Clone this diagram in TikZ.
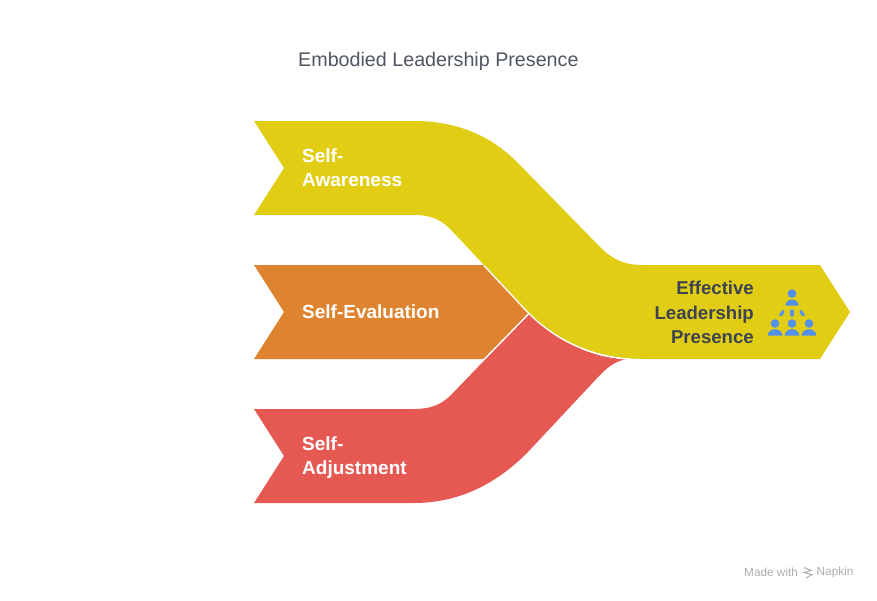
\documentclass[tikz,border=0pt]{standalone}
\usepackage{fontspec}
\setmainfont{Liberation Sans}
\usepackage{tikz}
\usetikzlibrary{positioning,calc}
\definecolor{ribyellow}{HTML}{E0CD14}
\definecolor{riborange}{HTML}{DE8431}
\definecolor{ribred}{HTML}{E65953}
\definecolor{inkdark}{HTML}{3D4350}
\definecolor{iconblue}{HTML}{5390EC}
\begin{document}
\begin{tikzpicture}[x=1pt,y=-1pt,
 lab/.style={font=\fontsize{19}{24.3}\selectfont\bfseries,text=white,anchor=west,align=left,inner sep=0pt},
 gap/.style={draw=white,line width=1.3pt},
 mark text/.style={font=\fontsize{11.8}{13}\selectfont,text=black!32,anchor=west,inner sep=0pt},
 tick/.style={draw=iconblue,line width=3.2pt,line cap=round}]
\useasboundingbox (0,0) rectangle (877,600);
% ribbons
\fill[riborange] (254,265) -- (484,265) -- (530,312) -- (484,359) -- (254,359) -- (284,312) -- cycle;
\fill[ribred] (254,409) -- (414,409) .. controls (430,409) and (441,405) .. (451,395) -- (530,313)
 .. controls (556,340) and (590,358) .. (626,359) .. controls (614,362) and (608,367) .. (600,375) -- (527,453)
 .. controls (497,483) and (460,503) .. (414,503) -- (254,503) -- (284,456) -- cycle;
\draw[gap] (484,359.5) -- (530,312.5);
\fill[ribyellow] (254,121) -- (414,121) .. controls (456,121) and (490,135) .. (517,162) -- (600,247)
 .. controls (612,259) and (624,265) .. (642,265) -- (820,265) -- (850,312) -- (820,359) -- (642,359)
 .. controls (594,359) and (556,340) .. (528,312) -- (453,232) .. controls (442,220) and (432,215) .. (414,215)
 -- (254,215) -- (284,168) -- cycle;
\draw[gap] (642,359.6) .. controls (594,359.6) and (556,340.6) .. (528,312.6) -- (484,265.6);
% labels
\node[font=\fontsize{19.7}{24}\selectfont,text=inkdark!90!white,anchor=west,inner sep=0pt] (title) at (298,61.5) {Embodied Leadership Presence};
\node[lab] (aware) at (302,168) {Self-\\Awareness};
\node[lab] (eval) at (302,312) {Self-Evaluation};
\node[lab] (adjust) at (302,457.5) {Self-\\Adjustment};
\node[lab,font=\fontsize{18.6}{24.3}\selectfont\bfseries,text=inkdark,anchor=east,align=right] (result) at (754,312.5) {Effective\\Leadership\\Presence};
% icon
\fill[iconblue] (792,293.5) circle (4.3);
\fill[iconblue] (775,323.5) circle (4.3) (792,323.5) circle (4.3) (809,323.5) circle (4.3);
\fill[iconblue] (785.5,305.5) arc[start angle=180,end angle=360,x radius=6.5,y radius=6] -- cycle;
\foreach \cx in {775,792,809}
 \fill[iconblue] (\cx-7.3,335.5) arc[start angle=180,end angle=360,x radius=7.3,y radius=6.3] -- cycle;
\draw[tick] (780.8,315) -- (783,311.5);
\draw[tick] (792,311) -- (792,315);
\draw[tick] (803.2,315) -- (801,311.5);
% watermark
\node[mark text] (made) at (744,572.5) {Made with};
\node[mark text] (napkin) at (816.5,572.5) {Napkin};
\draw[black!32,line width=1pt] (804,567.5) -- (811,570.5) -- (804,572.5) -- (812,574.5) -- (806,578);
\end{tikzpicture}
\end{document}
